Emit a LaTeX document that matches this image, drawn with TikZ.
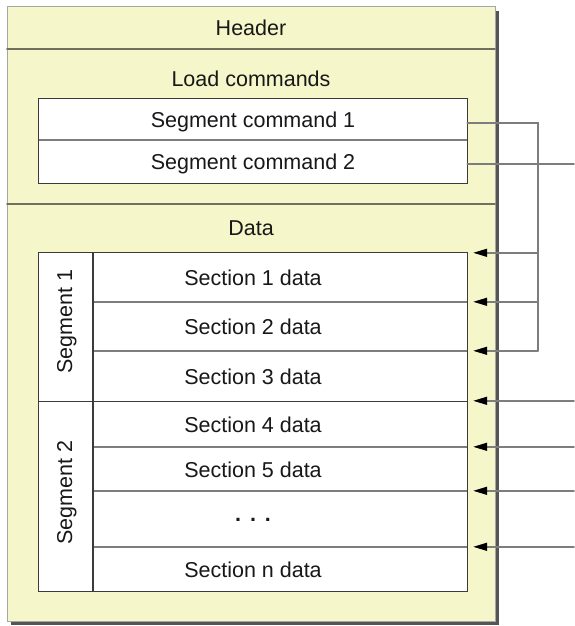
\documentclass[tikz,border=0pt]{standalone}
\usepackage{fontspec}
\setmainfont{Liberation Sans}
\usetikzlibrary{arrows.meta}

\definecolor{paper}{RGB}{245,246,202}
\definecolor{rulecol}{RGB}{112,112,94}
\definecolor{wirecol}{RGB}{125,125,125}
\definecolor{inkcol}{RGB}{24,24,24}
\definecolor{shadecol}{RGB}{85,85,85}

\tikzset{
  lbl/.style={font=\fontsize{21.5}{25}\selectfont, text=inkcol, inner sep=0pt},
  cell/.style={lbl, fill=white, minimum width=428pt, text height=16.5pt, text depth=0pt},
  tableline/.style={draw=inkcol!85, line width=1.3pt},
  rowline/.style={draw=wirecol, line width=1.5pt},
  wire/.style={draw=wirecol, line width=1.5pt},
  pointer/.style={wire, ->, shorten >=6pt}
}

\begin{document}
\begin{tikzpicture}[x=1pt, y=-1pt,
                    >={Triangle[length=14pt,width=8pt,color=black]}, line cap=round
                   ]

    \pgfmathsetmacro{\fl}{7}
    \pgfmathsetmacro{\fr}{495}
    \pgfmathsetmacro{\ft}{7}
    \pgfmathsetmacro{\fb}{621}

    \useasboundingbox (0,0) rectangle (574,626);

    \fill [shadecol] (\fl+4,\ft+4) rectangle (\fr+4,\fb+4);
    \draw [fill=paper, draw=gray!70, line width=1pt] (\fl,\ft) rectangle (\fr,\fb);
    \draw [rulecol, line width=1.6pt] (\fl,49) -- (\fr,49);
    \draw [rulecol, line width=1.6pt] (\fl,204) -- (\fr,204);

    \node [lbl, anchor=base] (hdr) at (251,36) {Header};
    \node [lbl, anchor=base] (loadcmds) at (251,86) {Load commands};
    \node [lbl, anchor=base] (datalbl) at (251,235) {Data};

    \node [cell, minimum height=41pt] (cmd1) at (253,119.5) {Segment command 1};
    \node [cell, minimum height=43pt] (cmd2) at (253,161.5) {Segment command 2};
    \draw [rowline] (cmd1.south west) -- (cmd1.south east);
    \draw [tableline] (cmd1.north west) rectangle (cmd2.south east);

    \foreach \name/\a/\b/\txt [evaluate={\m=(\a+\b)/2; \h=\b-\a;}]
        in {sec1/253/302/Section 1 data,
            sec2/302/351/Section 2 data,
            sec3/351/401/Section 3 data,
            sec4/401/447/Section 4 data,
            sec5/447/491/Section 5 data,
            secdots/491/547/{\raisebox{6pt}{\bfseries .\hspace{9pt}.\hspace{9pt}.}},
            secn/547/591/Section n data}{
        \node [cell, minimum height=\h pt] (\name) at (253,\m) {\txt};
    }

    \coordinate (segcol) at (93,0);
    \coordinate (bus) at (538,0);
    \coordinate (edge) at (574,0);

    \foreach \n in {sec1,sec2,sec4,sec5,secdots}
        \draw [rowline] (segcol |- \n.south) -- (\n.south east);
    \draw [tableline] (sec3.south west) -- (sec3.south east);
    \draw [tableline] (segcol |- sec1.north) -- (segcol |- secn.south);
    \draw [tableline] (sec1.north west) rectangle (secn.south east);

    \node [lbl, rotate=90, anchor=base] (seg1lbl) at (72,322) {Segment 1};
    \node [lbl, rotate=90, anchor=base] (seg2lbl) at (72,493) {Segment 2};

    \draw [wire] ([yshift=-3.5pt]cmd1.east) -| (bus |- sec3.north);
    \draw [wire] ([yshift=-2.5pt]cmd2.east) -- ([yshift=-2.5pt]cmd2.east -| edge);

    \foreach \n in {sec1,sec2,sec3}
        \draw [pointer] (bus |- \n.north) -- (\n.north east);
    \foreach \n in {sec4,sec5,secdots,secn}
        \draw [pointer] (edge |- \n.north) -- (\n.north east);

\end{tikzpicture}
\end{document}
